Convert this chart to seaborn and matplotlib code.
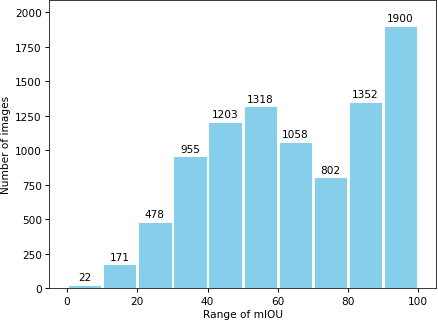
import matplotlib
matplotlib.use("Agg")
import matplotlib.pyplot as plt
import seaborn as sns
import numpy as np
import pandas as pd

bin_edges = [0, 10, 20, 30, 40, 50, 60, 70, 80, 90, 100]
counts = [22, 171, 478, 955, 1203, 1318, 1058, 802, 1352, 1900]
x_ticks = [0, 20, 40, 60, 80, 100]
y_ticks = [0, 250, 500, 750, 1000, 1250, 1500, 1750, 2000]

centers = [(a + b) / 2 for a, b in zip(bin_edges[:-1], bin_edges[1:])]
df = pd.DataFrame({"miou": centers, "n": counts})

plt.rcParams.update({"font.size": 11, "axes.linewidth": 1.0,
                     "xtick.major.width": 1.0, "ytick.major.width": 1.0,
                     "xtick.major.size": 4.5, "ytick.major.size": 4.5,
                     "axes.edgecolor": "#333333"})

fig = plt.figure(figsize=(6.4, 4.734), dpi=68.44)
ax = fig.add_axes([0.113, 0.108, 0.882, 0.889])
sns.histplot(data=df, x="miou", weights="n", bins=bin_edges, shrink=0.95,
             color="skyblue", edgecolor="white", linewidth=1.0, alpha=1.0, ax=ax)
ax.bar_label(ax.containers[0], labels=[str(c) for c in counts], padding=3, fontsize=11)
ax.set_xticks(x_ticks)
ax.set_yticks(y_ticks)
ax.set_xlim(-5, 105)
ax.set_ylim(0, 2090)
ax.set_xlabel("Range of mIOU")
ax.set_ylabel("Number of images")
fig.savefig("out.png", dpi=68.44)
